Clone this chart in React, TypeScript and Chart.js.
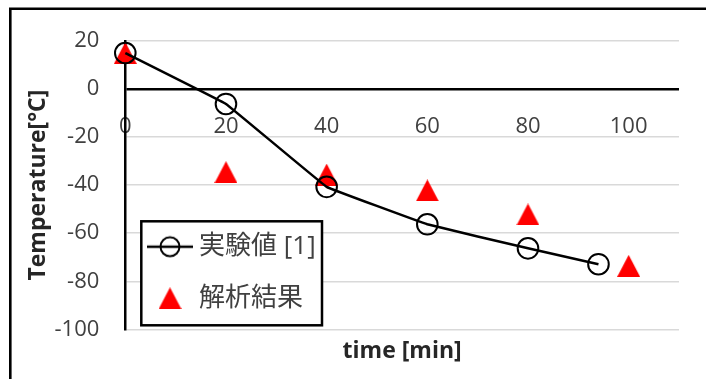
import React, { useEffect, useRef } from 'react';
import { Chart, registerables } from 'chart.js';

Chart.register(...registerables);

// ---- data ----
const timeExp = [0, 20, 40, 60, 80, 94];
const tempExp = [15, -6.2, -40.7, -56.3, -66.3, -72.9];
const timeSim = [0, 20, 40, 60, 80, 100];
const tempSim = [15, -34.6, -35.6, -42.2, -52.2, -73.6];
const seriesLabels = ['実験値 [1]', '解析結果'];
const xRange = [0, 110];
const yRange = [-100, 20];
const tickSteps = [20, 20];
const axisTitles = ['time [min]', 'Temperature[°C]'];

const FAMILY = "'Open Sans', 'Noto Sans CJK JP', sans-serif";
const TICK_COLOR = '#404040';
const TITLE_COLOR = '#262626';

function makeTriangle(w: number, h: number, color: string) {
  const c = document.createElement('canvas');
  c.width = w;
  c.height = h;
  const g = c.getContext('2d')!;
  g.fillStyle = color;
  g.beginPath();
  g.moveTo(w / 2, 0);
  g.lineTo(w, h);
  g.lineTo(0, h);
  g.closePath();
  g.fill();
  return c;
}

function makeLineCircle(w: number, h: number) {
  const c = document.createElement('canvas');
  c.width = w;
  c.height = h;
  const g = c.getContext('2d')!;
  g.strokeStyle = '#000';
  g.lineWidth = 2.5;
  g.beginPath();
  g.moveTo(0, h / 2);
  g.lineTo(w, h / 2);
  g.stroke();
  g.lineWidth = 2;
  g.beginPath();
  g.arc(w / 2, h / 2, 9.5, 0, Math.PI * 2);
  g.stroke();
  return c;
}

function placeLegend(chart: any) {
  const lg = chart.legend;
  const ca = chart.chartArea;
  if (!lg || !ca) return;
  lg.left = ca.left + 3.1;
  lg.top = ca.top + 167.1;
  lg.right = lg.left + 400;
  lg.bottom = lg.top + 500;
}

const framePlugin = {
  id: 'frame',
  afterLayout(chart: any) {
    placeLegend(chart);
  },
  beforeDraw(chart: any) {
    placeLegend(chart);
  },
  afterDatasetsDraw(chart: any) {
    const ctx = chart.ctx;
    const ca = chart.chartArea;
    const l = ca.left + 16;
    const r = ca.left + 196.7;
    const t = ca.top + 180.3;
    const b = ca.top + 284.3;
    ctx.save();
    ctx.fillStyle = '#fff';
    ctx.fillRect(l, t, r - l, b - t);
    ctx.strokeStyle = '#000';
    ctx.lineWidth = 2.5;
    ctx.strokeRect(l, t, r - l, b - t);
    ctx.restore();
    if (chart.legend) chart.legend.draw(ca);
  },
  afterDraw(chart: any) {
    const ctx = chart.ctx;
    ctx.save();
    ctx.strokeStyle = '#000';
    ctx.lineWidth = 2.6;
    ctx.beginPath();
    ctx.moveTo(10.3, 379);
    ctx.lineTo(10.3, 8.7);
    ctx.lineTo(706, 8.7);
    ctx.stroke();
    ctx.restore();
  },
};

export default function App() {
  const ref = useRef<HTMLCanvasElement>(null);

  useEffect(() => {
    const triangle = makeTriangle(23, 22, '#ff0000');
    const lineCircle = makeLineCircle(46, 24);

    const chart = new Chart(ref.current!, {
      type: 'line',
      data: {
        datasets: [
          {
            label: seriesLabels[0],
            data: timeExp.map((x, i) => ({ x, y: tempExp[i] })),
            borderColor: '#000',
            borderWidth: 2.5,
            pointStyle: 'circle',
            pointRadius: 10.3,
            pointBorderWidth: 2,
            pointBorderColor: '#000',
            pointBackgroundColor: 'rgba(0,0,0,0)',
            tension: 0.04,
            clip: false,
            xAxisID: 'x',
            yAxisID: 'y',
          } as any,
          {
            label: seriesLabels[1],
            data: timeSim.map((x, i) => ({ x, y: tempSim[i] })),
            showLine: false,
            pointStyle: triangle,
            pointRadius: 11,
            pointBorderWidth: 0,
            pointBackgroundColor: '#ff0000',
            clip: false,
            xAxisID: 'x',
            yAxisID: 'y',
          } as any,
        ],
      },
      options: {
        animation: false,
        responsive: false,
        devicePixelRatio: 1,
        layout: { padding: { left: 0, top: 41, right: 27, bottom: 14.1 } },
        plugins: {
          legend: {
            position: 'chartArea' as any,
            align: 'start',
            labels: {
              usePointStyle: true,
              pointStyleWidth: 32,
              padding: 25.6,
              color: TICK_COLOR,
              font: { family: FAMILY, size: 26 },
              generateLabels: () => [
                {
                  text: seriesLabels[0],
                  pointStyle: lineCircle as any,
                  fillStyle: 'rgba(0,0,0,0)',
                  strokeStyle: 'rgba(0,0,0,0)',
                  lineWidth: 0,
                  hidden: false,
                  datasetIndex: 0,
                  fontColor: TICK_COLOR,
                } as any,
                {
                  text: seriesLabels[1],
                  pointStyle: triangle as any,
                  fillStyle: 'rgba(0,0,0,0)',
                  strokeStyle: 'rgba(0,0,0,0)',
                  lineWidth: 0,
                  hidden: false,
                  datasetIndex: 1,
                  fontColor: TICK_COLOR,
                } as any,
              ],
            },
          },
          tooltip: { enabled: false },
        },
        scales: {
          x: {
            type: 'linear',
            position: { y: 0 } as any,
            min: xRange[0],
            max: xRange[1],
            grid: { display: false, drawTicks: false },
            border: { display: false },
            ticks: {
              stepSize: tickSteps[0],
              includeBounds: false,
              padding: 24,
              color: TICK_COLOR,
              font: { family: FAMILY, size: 22 },
              maxRotation: 0,
              autoSkip: false,
            },
            afterFit: (s: any) => {
              s.height = 0;
            },
          } as any,
          x2: {
            type: 'linear',
            axis: 'x',
            position: 'bottom',
            min: xRange[0],
            max: xRange[1],
            grid: { display: false, drawTicks: false },
            border: { display: false },
            ticks: { display: false },
            title: {
              display: true,
              text: axisTitles[0],
              color: TITLE_COLOR,
              font: { family: FAMILY, size: 23, weight: 'bold' },
              padding: { top: 8, bottom: 0 },
            },
          } as any,
          y: {
            type: 'linear',
            position: 'left',
            min: yRange[0],
            max: yRange[1],
            ticks: {
              stepSize: tickSteps[1],
              padding: 26,
              color: TICK_COLOR,
              font: { family: FAMILY, size: 22 },
            },
            grid: {
              drawTicks: false,
              color: (c: any) => (c.tick && c.tick.value === 0 ? '#000' : '#d9d9d9'),
              lineWidth: (c: any) => (c.tick && c.tick.value === 0 ? 2.5 : 1.5),
            },
            border: { display: true, color: '#000', width: 2.5 },
            title: {
              display: true,
              text: axisTitles[1],
              color: TITLE_COLOR,
              font: { family: FAMILY, size: 23, weight: 'bold' },
              padding: { top: 24.5, bottom: 0 },
            },
            afterFit: (s: any) => {
              s.width = 125.3;
            },
          } as any,
        },
      },
      plugins: [framePlugin],
    });
    return () => chart.destroy();
  }, []);

  return (
    <div style={{ position: 'fixed', left: 0, top: 0, width: 706, height: 379, background: '#fff' }}>
      <canvas ref={ref} width={706} height={379} style={{ display: 'block', width: 706, height: 379 }} />
    </div>
  );
}
